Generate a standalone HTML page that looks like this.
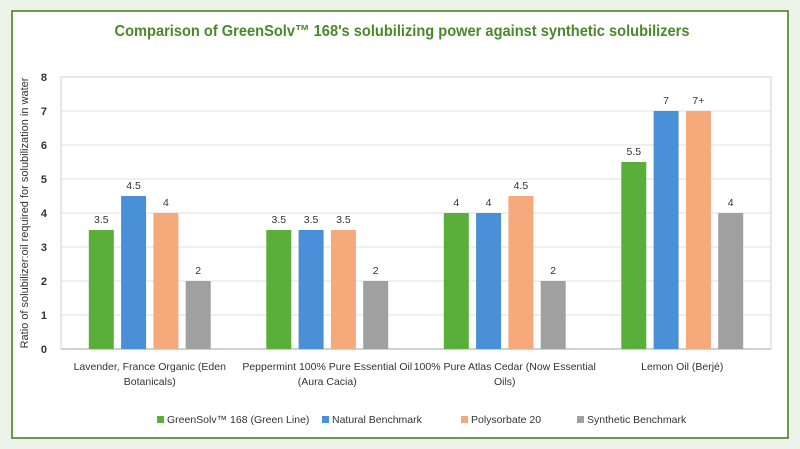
<!DOCTYPE html>
<html><head><meta charset="utf-8"><style>
html,body{margin:0;padding:0;background:#eef3ea;}
body{width:800px;height:449px;position:relative;overflow:hidden;font-family:"Liberation Sans",sans-serif;}
#frame{position:absolute;left:11px;top:10px;width:778px;height:429px;border:2px solid #6a9a4a;box-sizing:border-box;background:#fff;}
</style></head><body>
<div id="frame"></div>
<svg id="chart" width="800" height="449" style="position:absolute;left:0;top:0">
<text x="402" y="36" text-anchor="middle" font-size="16" font-weight="bold" fill="#4a892a" textLength="575" lengthAdjust="spacingAndGlyphs">Comparison of GreenSolv™ 168's solubilizing power against synthetic solubilizers</text>
<text transform="translate(28,213) rotate(-90)" text-anchor="middle" font-size="11" fill="#333">Ratio of solubilizer:oil required for solubilization in water</text>
<g id="plot"></g>
</svg>
<script>
const categories=[["Lavender, France Organic (Eden","Botanicals)"],["Peppermint 100% Pure Essential Oil","(Aura Cacia)"],["100% Pure Atlas Cedar (Now Essential","Oils)"],["Lemon Oil (Berjé)"]];
const seriesNames=["GreenSolv™ 168 (Green Line)","Natural Benchmark","Polysorbate 20","Synthetic Benchmark"];
const greenVals=[3.5,3.5,4,5.5];
const naturalVals=[4.5,3.5,4,7];
const polyVals=[4,3.5,4.5,7];
const synthVals=[2,2,2,4];
const valueLabels=[["3.5","3.5","4","5.5"],["4.5","3.5","4","7"],["4","3.5","4.5","7+"],["2","2","2","4"]];
const yTicks=[0,1,2,3,4,5,6,7,8];
const colors=["#5aae3a","#4a90d9","#f6a97a","#a0a0a0"];
const NS="http://www.w3.org/2000/svg";
const L=61,R=771,T=77,B=349,yMax=8;
const y=v=>B-(v/yMax)*(B-T);
const gw=(R-L)/categories.length;
const xc=i=>L+gw*(i+0.5);
const g=document.getElementById('plot');
function mk(tag,attrs){const e=document.createElementNS(NS,tag);for(const k in attrs)e.setAttribute(k,attrs[k]);g.appendChild(e);return e;}
let r=mk('rect',{x:L,y:T,width:R-L,height:B-T,fill:'#fff',stroke:'#c9d8bf','stroke-width':1});


yTicks.forEach(t=>{
  if(t>0&&t<yMax){let l=mk('line',{x1:L,x2:R,y1:y(t),y2:y(t),stroke:'#e2e2e2','stroke-width':1});
  
  }
  let tx=mk('text',{x:L-14,y:y(t)+4,'text-anchor':'end','font-size':11,'font-weight':'bold',fill:'#333'});
  tx.textContent=t;
  
  
});
let ax=mk('line',{x1:L,x2:R,y1:B,y2:B,stroke:'#9aa89a','stroke-width':1});


const series=[greenVals,naturalVals,polyVals,synthVals];
const bw=25,step=32.3;
categories.forEach((c,i)=>{
  series.forEach((s,j)=>{
    const x=xc(i)+(j-1.5)*step-bw/2;
    let b=mk('rect',{x:x,y:y(s[i]),width:bw,height:B-y(s[i]),fill:colors[j]});
    
    
    let v=mk('text',{x:x+bw/2,y:y(s[i])-7,'text-anchor':'middle','font-size':10.5,fill:'#333'});
    v.textContent=valueLabels[j][i];
    
    
  });
  c.forEach((line,k)=>{
    let t=mk('text',{x:xc(i),y:B+21+k*15,'text-anchor':'middle','font-size':10.5,fill:'#333'});
    t.textContent=line;
    
    
  });
});
const lx=[157,322,461,577];
seriesNames.forEach((n,j)=>{
  let s=mk('rect',{x:lx[j],y:416,width:7,height:7,fill:colors[j]});
  
  
  let t=mk('text',{x:lx[j]+10,y:423,'font-size':10.5,fill:'#333'});
  t.textContent=n;
  
  
});
</script>
</body></html>
